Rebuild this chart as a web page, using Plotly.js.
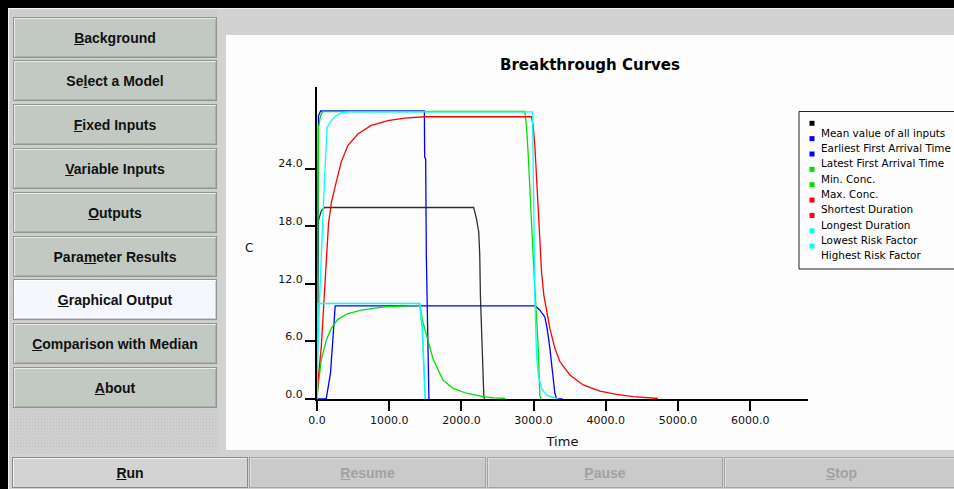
<!DOCTYPE html>
<html>
<head>
<meta charset="utf-8">
<script src="https://cdn.plot.ly/plotly-3.0.1.min.js"></script>
<style>
html,body{margin:0;padding:0;}
body{position:relative;width:954px;height:489px;overflow:hidden;background:#000;font-family:"Liberation Sans",Arial,sans-serif;}
#frame{position:absolute;left:8px;top:8px;width:946px;height:481px;background:#d2d2d2;border-top:1px solid #f2f2f2;border-left:1px solid #f2f2f2;box-sizing:border-box;}
#side{position:absolute;left:10px;top:10px;width:208px;height:443px;background-color:#cfcfcf;
 background-image:radial-gradient(#c2c2c2 0.6px, transparent 0.8px);background-size:3px 3px;}
.sb{position:absolute;left:13px;width:204px;height:41px;box-sizing:border-box;background:#c2c9c2;
 border:1px solid #8f978f;box-shadow:inset 1px 1px 0 #e6ebe6, inset -1px -1px 0 #a9b1a9;
 display:flex;align-items:center;justify-content:center;font-weight:bold;font-size:14px;color:#111;}
.sb.sel{background:#f6f6fd;box-shadow:inset 1px 1px 0 #ffffff, inset -1px -1px 0 #d0d0d8;}
#chart{position:absolute;left:226px;top:35px;width:728px;height:415px;background:#fdfdfd;}
.bb{position:absolute;top:457px;height:31px;box-sizing:border-box;background:#cacaca;border:1px solid #a4a4a4;
 box-shadow:inset 1px 1px 0 #dedede;display:flex;align-items:center;justify-content:center;font-weight:bold;font-size:14px;color:#a2a2a2;}
.bb.run{background:#d3d3d3;color:#111;border:1px solid #8a8a8a;box-shadow:inset 1px 1px 0 #f0f0f0;}
</style>
</head>
<body>
<div id="frame"></div>
<div id="side"></div>
<div class="sb" style="top:17px"><span><u>B</u>ackground</span></div>
<div class="sb" style="top:60px"><span>Se<u>l</u>ect a Model</span></div>
<div class="sb" style="top:104px"><span><u>F</u>ixed Inputs</span></div>
<div class="sb" style="top:148px"><span><u>V</u>ariable Inputs</span></div>
<div class="sb" style="top:192px"><span><u>O</u>utputs</span></div>
<div class="sb" style="top:236px"><span>Para<u>m</u>eter Results</span></div>
<div class="sb sel" style="top:279px"><span><u>G</u>raphical Output</span></div>
<div class="sb" style="top:323px"><span><u>C</u>omparison with Median</span></div>
<div class="sb" style="top:367px"><span><u>A</u>bout</span></div>
<div id="chart"></div>
<div class="bb run" style="left:12px;width:236px"><span><u>R</u>un</span></div>
<div class="bb" style="left:249px;width:237px"><span><u>R</u>esume</span></div>
<div class="bb" style="left:487px;width:236px"><span><u>P</u>ause</span></div>
<div class="bb" style="left:724px;width:235px"><span><u>S</u>top</span></div>
<script>
// ---------------- data ----------------
const seriesNames = ["Mean value of all inputs","Earliest First Arrival Time","Latest First Arrival Time",
  "Min. Conc.","Max. Conc.","Shortest Duration","Longest Duration","Lowest Risk Factor","Highest Risk Factor"];
const seriesColors = ["#000000","#0000ff","#0000ff","#00e000","#00e000","#ff0000","#ff0000","#00ffff","#00ffff"];
const lineColors = ["#303030","#0000ff","#0000ff","#00e000","#00e000","#ff0000","#ff0000","#00ffff","#00ffff"];

const meanT = [0, 8, 20, 60, 105, 2170, 2208, 2240, 2254, 2263, 2282, 2295, 2310, 2320];
const meanC = [0, 12, 18.6, 19.6, 19.95, 19.95, 18.8, 17.4, 15.0, 10.8, 6.6, 3.2, 0.4, 0];

const earliestT = [0, 20, 50, 1487, 1491, 1505, 1514, 1528, 1542, 1550];
const earliestC = [0, 29.5, 30.0, 30.0, 25.2, 25.0, 15.0, 7.4, 0.1, 0];

const latestT = [0, 127, 187, 252, 3026, 3086, 3155, 3187, 3225, 3262, 3294, 3318, 3400];
const latestC = [0, 0, 2.7, 9.7, 9.7, 9.25, 8.55, 7.35, 5.3, 2.85, 0.6, 0, 0];

const minConcT = [0, 11, 58, 128, 197, 289, 427, 613, 936, 1200, 1422, 1467, 1514, 1606, 1745, 1884, 2069, 2300, 2450, 2610];
const minConcC = [0, 0.94, 4.05, 6.1, 7.35, 8.3, 8.9, 9.25, 9.6, 9.7, 9.75, 8.0, 6.65, 4.2, 1.97, 1.1, 0.6, 0.24, 0.12, 0.05];

const maxConcT = [0, 8, 21, 49, 80, 2878, 2900, 2925, 2947, 2970, 2993, 3017, 3040, 3063, 3086, 3100];
const maxConcC = [0, 12, 28.3, 29.5, 29.95, 29.95, 28.5, 25.5, 21.5, 17.3, 15.0, 11.5, 9.0, 5.5, 0.4, 0];

const shortestT = [0, 10, 1422, 1445, 1459, 1477, 1491, 1500];
const shortestC = [0, 9.95, 9.95, 8.55, 7.35, 3.9, 0.07, 0];

const longestT = [0, 15, 60, 100, 130, 160, 200, 266, 336, 427, 566, 751, 982, 1213, 1491, 2970, 2993, 3017, 3040, 3063, 3086, 3110, 3142, 3179, 3225, 3294, 3363, 3502, 3687, 3918, 4149, 4380, 4705, 4720];
const longestC = [0, 2, 5.5, 10, 14.5, 18.3, 20.5, 22.6, 24.7, 26.4, 27.6, 28.5, 29.0, 29.25, 29.4, 29.4, 28.5, 26.4, 22.9, 19.5, 16.0, 13.2, 10.8, 9.1, 7.35, 5.3, 3.9, 2.5, 1.46, 0.83, 0.49, 0.24, 0.07, 0.05];

const lowestRiskT = [0, 10, 1422, 1445, 1459, 1477, 1491, 1500];
const lowestRiskC = [0, 9.95, 9.95, 8.55, 7.35, 3.9, 0.07, 0];

const highestRiskT = [0, 11, 35, 58, 81, 104, 128, 141, 197, 266, 336, 427, 2985, 2993, 3003, 3017, 3040, 3063, 3110, 3179, 3318, 3340];
const highestRiskC = [0, 4.75, 10.3, 15.5, 18.7, 22.9, 26.4, 28.3, 29.0, 29.5, 29.8, 29.9, 29.9, 24.7, 17.7, 10.8, 4.6, 2.5, 1.1, 0.4, 0.07, 0];

const xTickVals = [0, 1000, 2000, 3000, 4000, 5000, 6000];
const xTickText = ["0.0", "1000.0", "2000.0", "3000.0", "4000.0", "5000.0", "6000.0"];
const yTickVals = [0, 6, 12, 18, 24];
const yTickText = ["0.0", "6.0", "12.0", "18.0", "24.0"];

// ---------------- chart ----------------
const seriesT = [meanT, earliestT, latestT, minConcT, maxConcT, shortestT, longestT, lowestRiskT, highestRiskT];
const seriesC = [meanC, earliestC, latestC, minConcC, maxConcC, shortestC, longestC, lowestRiskC, highestRiskC];
const lineWidths = [1.3, 1.3, 1.3, 1.3, 1.3, 0.4, 1.3, 1.7, 1.3];

const traces = seriesNames.map((n, i) => ({
  type: 'scatter', mode: 'lines', name: n, x: seriesT[i], y: seriesC[i],
  line: {color: lineColors[i], width: lineWidths[i]}, showlegend: false, hoverinfo: 'skip'
}));

const W = 728, H = 415, ML = 91, MR = 146, MT = 52, MB = 51;
const PW = W - ML - MR, PH = H - MT - MB;
const OX = 226, OY = 35; // page offset of chart div
const px = p => (p - OX - ML) / PW;          // page x -> paper
const py = p => 1 - (p - OY - MT) / PH;      // page y -> paper

const fam = 'DejaVu Sans, Verdana, sans-serif';
const shapes = [{type: 'rect', xref: 'paper', yref: 'paper', x0: px(799), x1: px(965), y0: py(269), y1: py(111.5),
  line: {color: '#222', width: 1}, fillcolor: '#fdfdfd', layer: 'above'}];
const annotations = [{text: 'C', xref: 'paper', yref: 'paper', x: px(248.5), y: py(248), showarrow: false,
  xanchor: 'center', yanchor: 'middle', font: {family: fam, size: 12, color: '#111'}}];
seriesNames.forEach((n, i) => {
  const sy = 123.3 + 15.35 * i;
  shapes.push({type: 'rect', xref: 'paper', yref: 'paper', x0: px(809.5), x1: px(814.5), y0: py(sy + 2.5), y1: py(sy - 2.5),
    line: {width: 0}, fillcolor: seriesColors[i], layer: 'above'});
  annotations.push({text: n, xref: 'paper', yref: 'paper', x: px(819), y: py(132.7 + 15.33 * i), showarrow: false,
    xanchor: 'left', yanchor: 'middle', font: {family: fam, size: 10.4, color: '#000'}});
});

const axisCommon = {showline: true, linewidth: 2, linecolor: '#000', ticks: 'outside', ticklen: 10, tickwidth: 2,
  tickcolor: '#000', showgrid: false, zeroline: false, tickfont: {family: fam, size: 11, color: '#111'},
  layer: 'below traces', fixedrange: true};

const layout = {
  width: W, height: H, margin: {l: ML, r: MR, t: MT, b: MB, pad: 0},
  paper_bgcolor: '#fdfdfd', plot_bgcolor: '#fdfdfd',
  title: {text: '<b>Breakthrough Curves</b>', font: {family: fam, size: 15, color: '#000'},
    x: 0.5, xref: 'container', xanchor: 'center', y: 1 - (64.3 - OY) / H, yref: 'container', yanchor: 'middle'},
  xaxis: Object.assign({}, axisCommon, {range: [0, 6800], tickvals: xTickVals, ticktext: xTickText,
    title: {text: 'Time', font: {family: fam, size: 13, color: '#111'}, standoff: 11}}),
  yaxis: Object.assign({}, axisCommon, {range: [0, 32.5], tickvals: yTickVals, ticktext: yTickText,
    ticklabelshift: -5}),
  shapes: shapes, annotations: annotations, showlegend: false
};

Plotly.newPlot('chart', traces, layout, {displayModeBar: false, staticPlot: true});
</script>
</body>
</html>
